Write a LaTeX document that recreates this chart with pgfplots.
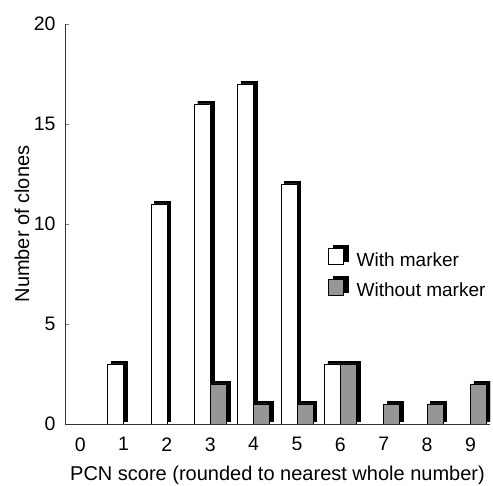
\documentclass[border=0pt]{standalone}
\usepackage{fontspec}
\setmainfont{Liberation Sans}
\usepackage{pgfplots}
\usepackage{pgfplotstable}
\pgfplotsset{compat=1.18}
\definecolor{barg}{RGB}{150,150,150}
\pgfplotstableread{
x w
1 3
2 11
3 16
4 17
5 12
6 3
}\withm
\pgfplotstableread{
x g
3 2
4 1
5 1
6 3
7 1
8 1
9 2
}\withoutm
\begin{document}
\fontsize{19}{22}\selectfont
\begin{tikzpicture}
\useasboundingbox (-65pt,-62pt) rectangle (428pt,424pt);
\begin{axis}[
  at={(0pt,0pt)}, anchor=south west,
  width=425pt, height=400pt, scale only axis,
  xmin=-0.35, xmax=9.45, ymin=0, ymax=20,
  axis x line*=bottom, axis y line*=left,
  axis line style={line width=0.8pt, color=black!80},
  xtick={0,...,9}, ytick={0,5,10,15,20},
  xtick style={draw=none},
  ytick style={line width=0.6pt},
  major tick length=4pt,
  tick label style={font=\fontsize{19.5}{22}\selectfont},
  xticklabel style={yshift=-7pt},
  yticklabel style={xshift=-3pt},
  /pgf/number format/assume math mode=true,
  xlabel={PCN score (rounded to nearest whole number)},
  ylabel={Number of clones},
  label style={font=\fontsize{20}{23}\selectfont},
  xlabel style={at={(axis description cs:0.5,-0.1275)}, anchor=center},
  ylabel style={at={(axis description cs:-0.101,0.5)}, anchor=center},
  legend style={draw=none, fill=none, at={(rel axis cs:0.612,0.452)}, anchor=north west,
    font=\fontsize{19}{22}\selectfont, row sep=5pt},
  legend cell align=left,
]
\addplot[ybar, bar width=0.37, bar shift=-0.185, fill=black, draw=black, xshift=3.5pt, yshift=2.5pt, forget plot] table[x=x,y=w]{\withm};
\addplot[ybar, bar width=0.37, bar shift=0.185, fill=black, draw=black, xshift=3.5pt, yshift=2.5pt, forget plot] table[x=x,y=g]{\withoutm};
\addplot[ybar, bar width=0.37, bar shift=-0.185, fill=white, draw=black, line width=0.7pt, forget plot] table[x=x,y=w]{\withm};
\addplot[ybar, bar width=0.37, bar shift=0.185, fill=barg, draw=black, line width=0.7pt, forget plot] table[x=x,y=g]{\withoutm};
\addlegendimage{legend image code/.code={
  \path[draw=none, fill=none] (0pt,0pt) rectangle (26pt,1pt);
  \fill[black] (4.5pt,-1pt) rectangle (20pt,15pt);
  \filldraw[fill=white, draw=black, line width=0.7pt] (0pt,-4pt) rectangle (15pt,12pt);}}
\addlegendentry{With marker}
\addlegendimage{legend image code/.code={
  \path[draw=none, fill=none] (0pt,0pt) rectangle (26pt,1pt);
  \fill[black] (4.5pt,-1pt) rectangle (20pt,15pt);
  \filldraw[fill=barg, draw=black, line width=0.7pt] (0pt,-4pt) rectangle (15pt,12pt);}}
\addlegendentry{Without marker}
\end{axis}
\end{tikzpicture}
\end{document}
